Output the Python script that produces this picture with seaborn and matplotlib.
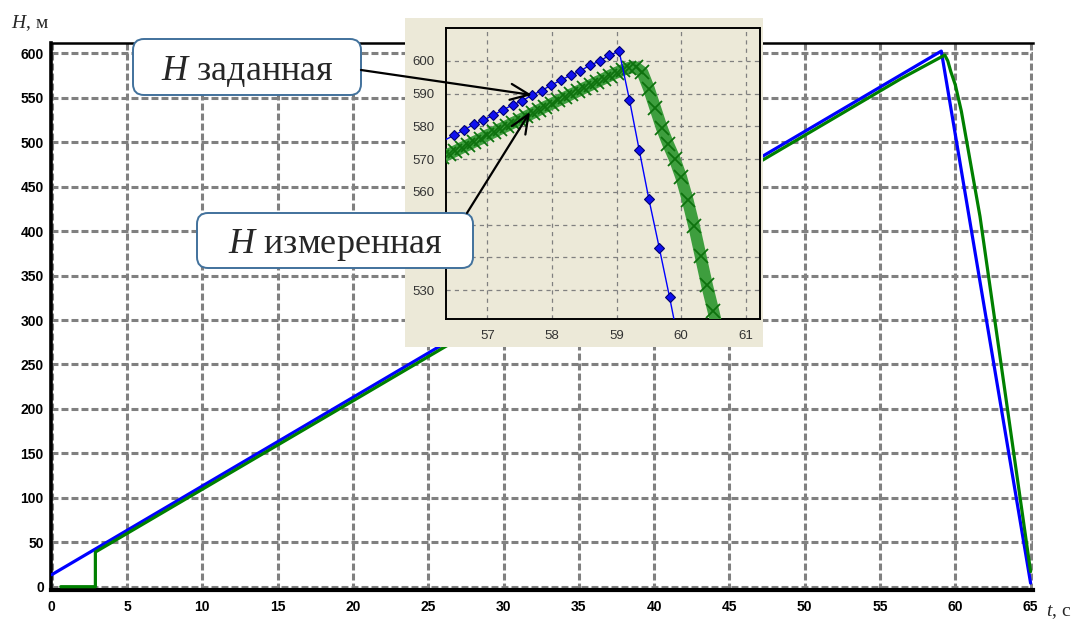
import matplotlib
matplotlib.use("Agg")
import matplotlib.pyplot as plt
import pandas as pd
import seaborn as sns
from matplotlib.patches import FancyBboxPatch, FancyArrowPatch, Rectangle
from matplotlib.ticker import MultipleLocator

# ---------------- data ----------------
# main chart: H set (blue) and H measured (green), key points
t_set_main = [0.0, 59.07, 65.0]
h_set_main = [13.5, 602.5, 4.0]

t_meas_main = [0.6, 2.9, 2.9, 20.0, 40.0, 56.4, 59.3, 59.5, 59.7, 60.0, 60.4, 61.64, 63.19, 65.0]
h_meas_main = [0.0, 0.0, 39.0, 209.0, 408.0, 571.5, 598.0, 591.5, 579.5, 564.5, 535.0, 416.5, 232.5, 17.0]

# zoomed inset: sampled set values (diamonds)
t_set_zoom = [56.34, 56.49, 56.64, 56.79, 56.94, 57.09, 57.24, 57.39, 57.54, 57.69,
              57.84, 57.99, 58.14, 58.29, 58.44, 58.59, 58.74, 58.89, 59.04,
              59.20, 59.35, 59.50, 59.66, 59.82, 59.97]
h_set_zoom = [575.8, 577.3, 578.9, 580.6, 581.9, 583.4, 585.0, 586.5, 587.8, 589.5,
              590.9, 592.6, 594.1, 595.6, 596.9, 598.7, 599.9, 601.7, 602.9,
              588.0, 572.8, 557.8, 543.0, 527.9, 513.0]

# zoomed inset: measured values (x marks)
t_meas_zoom = [56.3, 56.4, 56.5, 56.6, 56.7, 56.8, 56.9, 57.0, 57.1, 57.2, 57.3, 57.4,
               57.5, 57.6, 57.7, 57.8, 57.9, 58.0, 58.1, 58.2, 58.3, 58.4, 58.5, 58.6,
               58.7, 58.8, 58.9, 59.0, 59.1, 59.2, 59.3, 59.4, 59.5, 59.6, 59.7, 59.8,
               59.9, 60.0, 60.1, 60.2, 60.3, 60.4, 60.5, 60.6]
h_meas_zoom = [570.6, 571.5, 572.4, 573.4, 574.3, 575.3, 576.2, 577.3, 578.2, 579.2,
               580.1, 581.1, 582.0, 583.0, 584.0, 585.0, 586.0, 586.9, 587.9, 588.8,
               589.8, 590.7, 591.7, 592.6, 593.6, 594.5, 595.5, 596.4, 597.2, 597.9,
               598.0, 596.5, 591.5, 585.5, 579.5, 574.5, 570.0, 564.5, 557.5, 549.5,
               540.5, 531.5, 523.5, 515.0]

x_ticks_main = list(range(0, 66, 5))
y_ticks_main = list(range(0, 601, 50))
x_ticks_zoom = [57, 58, 59, 60, 61]
y_ticks_zoom = [530, 540, 550, 560, 570, 580, 590, 600]
y_ticks_zoom_hidden = [540, 550]   # covered by the callout box in the picture

label_set = r"$\mathit{H}$ заданная"
label_meas = r"$\mathit{H}$ измеренная"
y_title = r"$\mathit{H}$, м"
x_title = r"$\mathit{t}$, с"

# ---------------- style ----------------
sns.set_style("white")
plt.rcParams['font.family'] = ['Liberation Sans', 'DejaVu Sans']
plt.rcParams['lines.scale_dashes'] = False
plt.rcParams['mathtext.fontset'] = 'custom'
plt.rcParams['mathtext.it'] = 'Liberation Serif:italic'
plt.rcParams['mathtext.rm'] = 'Liberation Serif'

W, H = 1082, 621
fig = plt.figure(figsize=(W / 100, H / 100), dpi=100)
fig.patch.set_facecolor('white')


def fx(px):
    return px / W


def fy(py):
    return 1 - py / H


# ---------------- main axes ----------------
ax_l, ax_r, ax_t, ax_b = 51, 1033, 43, 590
ax = fig.add_axes([fx(ax_l), fy(ax_b), (ax_r - ax_l) / W, (ax_b - ax_t) / H])
ax.set_facecolor('white')
x0_px, xs = 51.7, 15.06
y0_px, ys = 586.7, 0.889
ax.set_xlim((ax_l - x0_px) / xs, (ax_r - x0_px) / xs)
ax.set_ylim(-(ax_b - y0_px) / ys, (y0_px - ax_t) / ys)

df_set_main = pd.DataFrame({'t': t_set_main, 'H': h_set_main})
df_meas_main = pd.DataFrame({'t': t_meas_main, 'H': h_meas_main})
sns.lineplot(data=df_set_main, x='t', y='H', ax=ax, color='#0000FF', lw=2.3,
             sort=False, estimator=None, zorder=3)
sns.lineplot(data=df_meas_main, x='t', y='H', ax=ax, color='#008000', lw=2.3,
             sort=False, estimator=None, zorder=4)
ax.set_xlabel('')
ax.set_ylabel('')

ax.set_axisbelow(True)
ax.grid(True, which='major', color='#808080', lw=2.2, linestyle=(0, (5, 2.2)))
ax.set_xticks(x_ticks_main)
ax.set_xticklabels([str(v) for v in x_ticks_main], fontweight='bold', fontsize=10)
ax.set_yticks(y_ticks_main)
ax.set_yticklabels([str(v) for v in y_ticks_main], fontweight='bold', fontsize=10)
ax.xaxis.set_minor_locator(MultipleLocator(1.25))
ax.tick_params(axis='both', which='both', direction='out', length=4.2, width=2.2,
               color='#808080', labelcolor='black')
ax.tick_params(axis='x', which='major', pad=3)
ax.tick_params(axis='y', which='major', pad=1)
ax.tick_params(axis='y', which='minor', length=0)
for side, lw in [('left', 2.6), ('bottom', 3.0), ('top', 1.8)]:
    ax.spines[side].set_visible(True)
    ax.spines[side].set_color('black')
    ax.spines[side].set_linewidth(lw)
ax.spines['right'].set_visible(False)

# ---------------- inset ----------------
beige = '#ECE9D8'
fig.add_artist(Rectangle((fx(405), fy(347)), 358 / W, 329 / H, transform=fig.transFigure,
                         facecolor=beige, edgecolor='none', zorder=1))
axi = fig.add_axes([fx(446), fy(319), 314 / W, 291 / H], zorder=2)
axi.set_facecolor(beige)
axi.set_xlim(56.36, 61.22)
axi.set_ylim(521.2, 610.0)

df_meas_zoom = pd.DataFrame({'t': t_meas_zoom, 'H': h_meas_zoom})
df_set_zoom = pd.DataFrame({'t': t_set_zoom, 'H': h_set_zoom})
sns.lineplot(data=df_meas_zoom, x='t', y='H', ax=axi, color='#3E9E3E', lw=8.5,
             sort=False, estimator=None, zorder=3, solid_capstyle='butt')
sns.lineplot(data=df_meas_zoom, x='t', y='H', ax=axi, color='#0E720E', lw=0,
             marker='x', markersize=10, markeredgewidth=1.3,
             markeredgecolor='#0E720E', markerfacecolor='#0E720E',
             sort=False, estimator=None, zorder=4)
sns.lineplot(data=df_set_zoom, x='t', y='H', ax=axi, color='#0000FF', lw=1.0,
             sort=False, estimator=None, zorder=5)
sns.lineplot(data=df_set_zoom.iloc[1:], x='t', y='H', ax=axi, color='#0000FF', lw=0,
             marker='D', markersize=5.5, markerfacecolor='#1010F0',
             markeredgecolor='#000070', markeredgewidth=0.8,
             sort=False, estimator=None, zorder=6)
axi.set_xlabel('')
axi.set_ylabel('')
axi.set_axisbelow(True)
axi.grid(True, color='#808080', lw=0.9, linestyle=(0, (3, 3)))
axi.set_xticks(x_ticks_zoom)
axi.set_xticklabels([str(v) for v in x_ticks_zoom])
axi.set_yticks(y_ticks_zoom)
axi.set_yticklabels(['' if v in y_ticks_zoom_hidden else str(v) for v in y_ticks_zoom])
axi.tick_params(axis='both', length=0, labelsize=9.5, labelcolor='#333333')
axi.tick_params(axis='x', pad=8)
axi.tick_params(axis='y', pad=8)
for side in ['left', 'right', 'top', 'bottom']:
    axi.spines[side].set_visible(True)
    axi.spines[side].set_color('black')
    axi.spines[side].set_linewidth(1.4)

# ---------------- callouts ----------------
tr = fig.dpi_scale_trans


def box(x1, y1, x2, y2):
    p = FancyBboxPatch((x1 / 100, (H - y2) / 100), (x2 - x1) / 100, (y2 - y1) / 100,
                       boxstyle="round,pad=0,rounding_size=0.11", transform=tr,
                       facecolor='white', edgecolor='#41719C', lw=1.4, zorder=5)
    fig.add_artist(p)


def arrow(xa, ya, xb, yb):
    a = FancyArrowPatch((xa / 100, (H - ya) / 100), (xb / 100, (H - yb) / 100),
                        arrowstyle='->,head_length=0.75,head_width=0.32',
                        mutation_scale=18, lw=1.6, color='black', transform=tr,
                        shrinkA=0, shrinkB=0, zorder=6)
    fig.add_artist(a)


box(133, 39, 361, 95)
box(197, 213, 473, 268)
arrow(361, 70, 532, 95)
arrow(467, 213, 530, 112)

fig.text(fx(247), fy(80), label_set, ha='center', va='baseline', fontsize=26,
         family=['Liberation Serif', 'DejaVu Serif'], zorder=7)
fig.text(fx(335), fy(253), label_meas, ha='center', va='baseline', fontsize=26,
         family=['Liberation Serif', 'DejaVu Serif'], zorder=7)

fig.text(fx(11), fy(28), y_title, ha='left', va='baseline', fontsize=14,
         family=['Liberation Serif', 'DejaVu Serif'])
fig.text(fx(1046), fy(616), x_title, ha='left', va='baseline', fontsize=14,
         family=['Liberation Serif', 'DejaVu Serif'])

fig.savefig('out.png', dpi=100, facecolor='white')
